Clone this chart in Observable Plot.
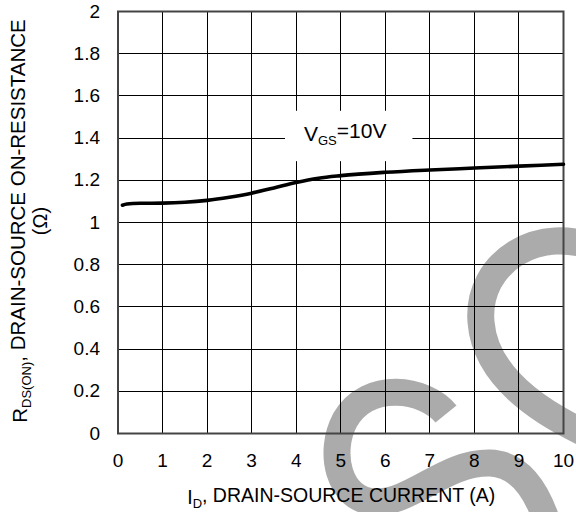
<!DOCTYPE html>
<html>
<head>
<meta charset="utf-8">
<script src="https://cdn.jsdelivr.net/npm/d3@7"></script>
<script src="https://cdn.jsdelivr.net/npm/@observablehq/plot@0.6"></script>
<style>
  html, body { margin: 0; padding: 0; background: #fff; }
  svg { display: block; }
</style>
</head>
<body>
<div id="chart"></div>
<script>
// ---- data ----
const drainCurrentA = [0.1, 0.2, 0.5, 1, 1.5, 2, 2.5, 3, 3.5, 4, 4.5, 5, 6, 7, 8, 9, 10];
const onResistanceOhm = [1.082, 1.088, 1.091, 1.092, 1.096, 1.105, 1.120, 1.139, 1.164, 1.190, 1.210, 1.222, 1.238, 1.249, 1.258, 1.267, 1.276];

const xTicks = [0, 1, 2, 3, 4, 5, 6, 7, 8, 9, 10];
const xTickLabels = ["0", "1", "2", "3", "4", "5", "6", "7", "8", "9", "10"];
const yTicks = [0, 0.2, 0.4, 0.6, 0.8, 1, 1.2, 1.4, 1.6, 1.8, 2];
const yTickLabels = ["0", "0.2", "0.4", "0.6", "0.8", "1", "1.2", "1.4", "1.6", "1.8", "2"];

const curveLabel = { main: "V", sub: "GS", rest: "=10V" };
const curveLabelAt = { x: 5.1, y: 1.42 };

const xTitle = { main: "I", sub: "D", rest: ", DRAIN-SOURCE CURRENT (A)" };
const yTitle = { main: "R", sub: "DS(ON)", rest: ", DRAIN-SOURCE ON-RESISTANCE", line2: "(\u03A9)" };

// ---- build ----
const FONT = "'Liberation Sans', Arial, Helvetica, sans-serif";
const rows = drainCurrentA.map((x, i) => ({ x, y: onResistanceOhm[i] }));
const LABEL_KEY = curveLabel.main + curveLabel.sub + curveLabel.rest;

const W = 576, H = 512;
const mL = 117.5, mR = 13, mT = 11, mB = 79;

const chart = Plot.plot({
  width: W,
  height: H,
  marginLeft: mL,
  marginRight: mR,
  marginTop: mT,
  marginBottom: mB,
  style: { fontFamily: FONT, fontSize: "19px", fontWeight: "normal", color: "#000", background: "#fff", overflow: "hidden" },
  x: {
    domain: [0, 10],
    ticks: xTicks,
    tickFormat: d => xTickLabels[xTicks.indexOf(d)],
    tickSize: 0,
    tickPadding: 20,
    label: null
  },
  y: {
    domain: [0, 2],
    ticks: yTicks,
    tickFormat: d => yTickLabels[yTicks.indexOf(d)],
    tickSize: 0,
    tickPadding: 18,
    label: null
  },
  marks: [
    Plot.gridX({ ticks: xTicks.slice(1, -1), stroke: "#000", strokeOpacity: 1, strokeWidth: 1, ariaLabel: "x-grid" }),
    Plot.gridY({ ticks: yTicks.slice(1, -1), stroke: "#000", strokeOpacity: 1, strokeWidth: 1, ariaLabel: "y-grid" }),
    Plot.frame({ stroke: "#444", strokeWidth: 2, ariaLabel: "frame" }),
    Plot.line(rows, { x: "x", y: "y", stroke: "#000", strokeWidth: 3.6, curve: "monotone-x", strokeLinecap: "round" }),
    Plot.text([curveLabelAt], {
      x: "x", y: "y", text: () => LABEL_KEY,
      fontSize: 21, fill: "#000", textAnchor: "middle"
    })
  ]
});

document.getElementById("chart").appendChild(chart);

const svg = d3.select(chart);
const NS = "http://www.w3.org/2000/svg";

// crisp, solid black grid lines and frame
svg.selectAll('g[aria-label="x-grid"], g[aria-label="y-grid"], g[aria-label="frame"]')
  .attr("shape-rendering", "crispEdges");

// ---- curve label with subscript and white box ----
svg.selectAll("text").filter(function () { return this.textContent === LABEL_KEY; }).each(function () {
  const lbl = d3.select(this);
  lbl.text(null);
  lbl.append("tspan").text(curveLabel.main);
  lbl.append("tspan").attr("font-size", 13).attr("dy", "0.35em").text(curveLabel.sub);
  lbl.append("tspan").attr("dy", "-0.35em").text(curveLabel.rest);
  const node = this;
  const bb = node.getBBox();
  const tr = node.getAttribute("transform") || "";
  const rect = document.createElementNS(NS, "rect");
  rect.setAttribute("x", bb.x - 19);
  rect.setAttribute("y", bb.y - 8);
  rect.setAttribute("width", bb.width + 45);
  rect.setAttribute("height", bb.height + 21);
  rect.setAttribute("fill", "#fff");
  if (tr) rect.setAttribute("transform", tr);
  node.parentNode.insertBefore(rect, node);
});

// ---- axis titles ----
const xs = chart.scale("x"), ys = chart.scale("y");
const xMid = (xs.apply(0) + xs.apply(10)) / 2;
const yMid = (ys.apply(0) + ys.apply(2)) / 2;

const xt = svg.append("text")
  .attr("x", xMid + 1)
  .attr("y", 504)
  .attr("text-anchor", "middle")
  .attr("font-family", FONT)
  .attr("font-size", 19.5)
  .attr("fill", "#000");
xt.append("tspan").text(xTitle.main);
xt.append("tspan").attr("font-size", 13).attr("dy", "0.3em").text(xTitle.sub);
xt.append("tspan").attr("dy", "-0.3em").text(xTitle.rest);

const yt = svg.append("g").attr("transform", `translate(0,${yMid - 1}) rotate(-90)`);
const yl1 = yt.append("text")
  .attr("x", 0).attr("y", 27)
  .attr("text-anchor", "middle")
  .attr("font-family", FONT)
  .attr("font-size", 20.5)
  .attr("fill", "#000");
yl1.append("tspan").text(yTitle.main);
yl1.append("tspan").attr("font-size", 13).attr("dy", "0.3em").text(yTitle.sub);
yl1.append("tspan").attr("dy", "-0.3em").text(yTitle.rest);
yt.append("text")
  .attr("x", 0).attr("y", 47)
  .attr("text-anchor", "middle")
  .attr("font-family", FONT)
  .attr("font-size", 20)
  .attr("fill", "#000")
  .text(yTitle.line2);

// ---- decorative watermark (grey "S" logo) under everything ----
const wm = document.createElementNS(NS, "g");
wm.setAttribute("aria-label", "watermark");
[
  "M 600 250 C 540 222, 476 262, 481 322 C 485 372, 530 410, 600 440",
  "M 446 414 C 425 388, 368 380, 345 420 C 328 452, 338 500, 375 502 C 412 503, 445 462, 490 463 C 520 464, 537 490, 548 525"
].forEach(d => {
  const p = document.createElementNS(NS, "path");
  p.setAttribute("d", d);
  p.setAttribute("fill", "none");
  p.setAttribute("stroke", "#ababab");
  p.setAttribute("stroke-width", 27);
  p.setAttribute("stroke-linecap", "butt");
  wm.appendChild(p);
});
chart.insertBefore(wm, chart.firstChild.nextSibling);
</script>
</body>
</html>
